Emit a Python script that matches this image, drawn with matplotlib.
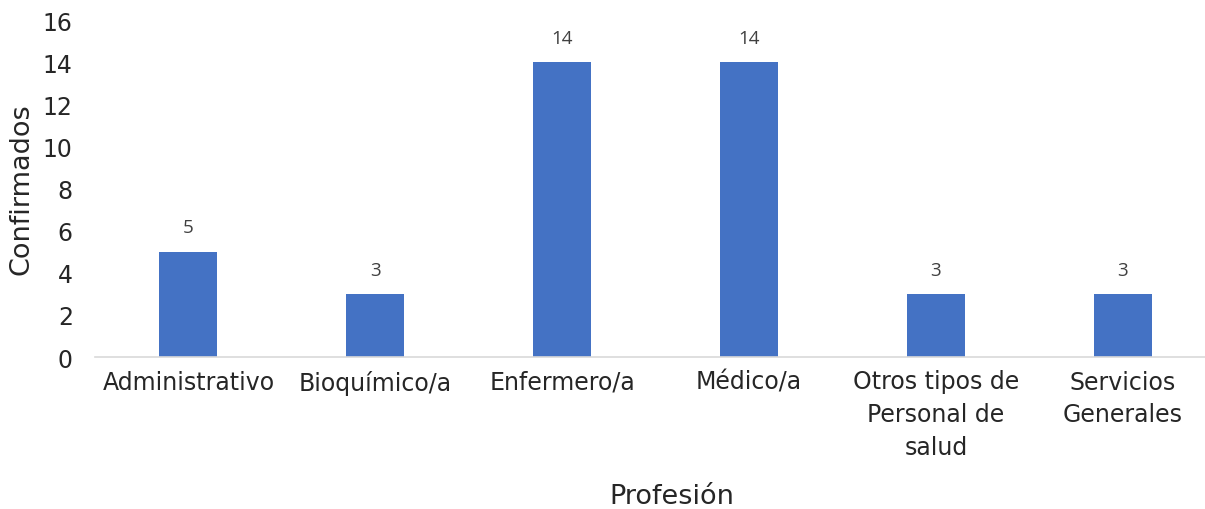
import matplotlib
matplotlib.use('Agg')
from matplotlib import pyplot as plt

# datos
categorias = ['Administrativo', 'Bioquímico/a', 'Enfermero/a', 'Médico/a',
              'Otros tipos de\nPersonal de\nsalud', 'Servicios\nGenerales']
confirmados = [5, 3, 14, 14, 3, 3]
yticks = [0, 2, 4, 6, 8, 10, 12, 14, 16]

plt.rcParams['font.family'] = ['DejaVu Sans']

fig = plt.figure(figsize=(12.05, 5.10), dpi=100)
ax = fig.add_axes([95/1205, 152/510, 1110/1205, 337/510])

x = range(len(categorias))
barras = ax.bar(x, confirmados, width=0.31, color='#4472C4', zorder=2)

# etiquetas de datos
for xi, v in zip(x, confirmados):
    ax.annotate(str(v), (xi, v), xytext=(0, 11), textcoords='offset points',
                ha='center', va='bottom', fontsize=13.5, color='#404040',
                family=['Open Sans', 'DejaVu Sans'])

ax.set_xlim(-0.5, 5.44)
ax.set_ylim(0, 16)
ax.set_yticks(yticks)
ax.set_xticks(list(x))
ax.set_xticklabels(categorias, fontsize=17, color='#262626', linespacing=1.45)
ax.tick_params(axis='y', labelsize=17, labelcolor='#262626', length=0, pad=16)
ax.tick_params(axis='x', length=0, pad=9)

for s in ['top', 'right', 'left']:
    ax.spines[s].set_visible(False)
ax.spines['bottom'].set_color('#D9D9D9')
ax.spines['bottom'].set_linewidth(1.2)

ax.set_ylabel('Confirmados', fontsize=19.5, color='#262626', labelpad=6)
fig.text(672/1205, 1 - 497/510, 'Profesión', ha='center', va='center',
         fontsize=19.5, color='#262626')

fig.savefig('out.png', dpi=100)
